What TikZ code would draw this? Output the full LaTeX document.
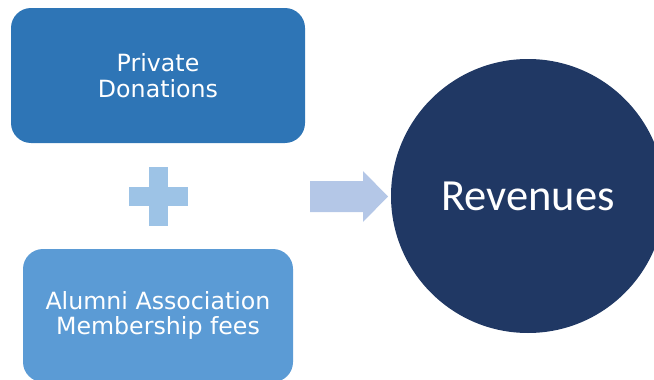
\documentclass[tikz,border=0pt]{standalone}
\usepackage{fontspec}
\setmainfont{DejaVu Sans}
\newfontfamily\revfont{Carlito}

\definecolor{boxblue}{HTML}{2E75B6}
\definecolor{boxlight}{HTML}{5B9BD5}
\definecolor{plusblue}{HTML}{9DC3E6}
\definecolor{arrowblue}{HTML}{B4C7E7}
\definecolor{navy}{HTML}{203864}

\tikzstyle{source}=[rectangle, rounded corners=20pt, text centered, align=center, text=white, font=\fontsize{23.7}{25.5}\selectfont]
\tikzstyle{total}=[circle, inner sep=0pt, minimum size=274pt, fill=navy, text=white, font=\revfont\fontsize{44.5}{48}\selectfont]

\begin{document}
\begin{tikzpicture}[x=1pt, y=-1pt]

\clip (0,0) rectangle (654,380);

\node(s0)[source, fill=boxblue, minimum width=294pt, minimum height=135pt] at (158,75.5) {Private\\Donations};
\node(s1)[source, fill=boxlight, minimum width=270pt, minimum height=133pt] at (158,315.5) {Alumni Association\\Membership fees};
\node(rev)[total] at (528,196) {Revenues};

% plus sign
\fill[plusblue] (129,187) rectangle (188,206);
\fill[plusblue] (149,167) rectangle (168,226);

% block arrow
\fill[arrowblue] (310,181) -- (363,181) -- (363,171) -- (388,196.5) -- (363,222) -- (363,212) -- (310,212) -- cycle;

\end{tikzpicture}
\end{document}
